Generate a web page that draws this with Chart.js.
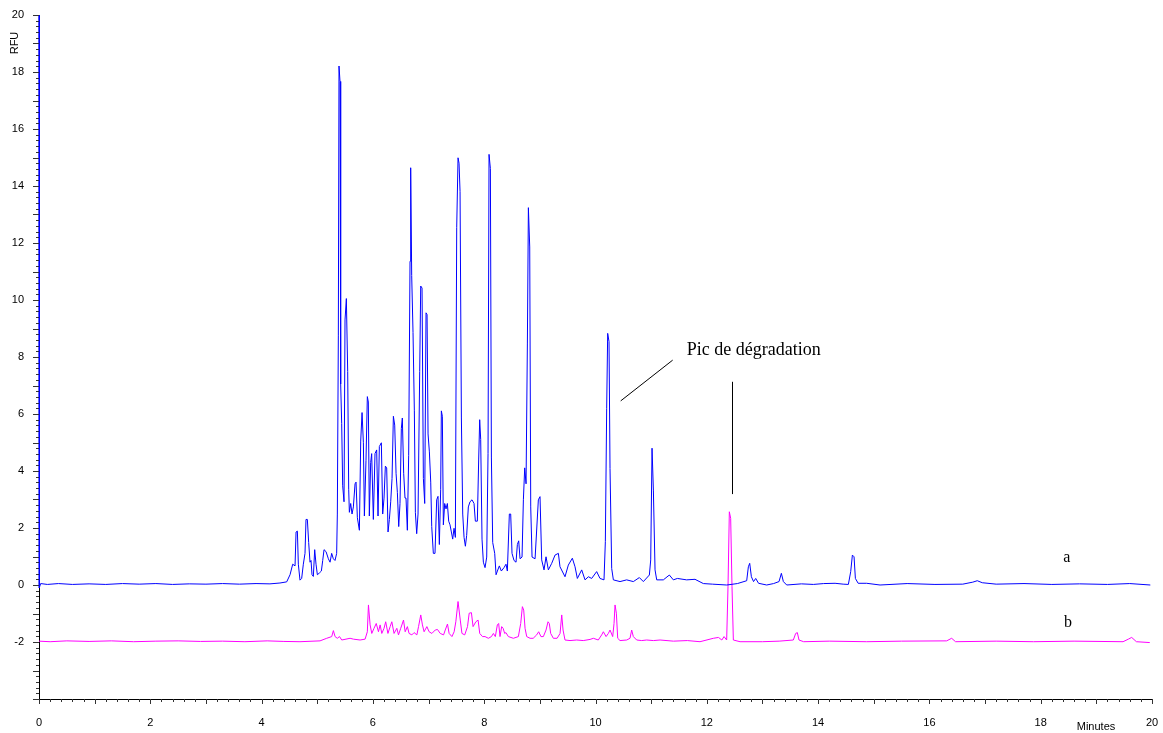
<!DOCTYPE html>
<html>
<head>
<meta charset="utf-8">
<script src="https://cdn.jsdelivr.net/npm/chart.js@4"></script>
<style>
  body { margin: 0; background: #fff; }
  #wrap { width: 1163px; height: 733px; }
</style>
</head>
<body>
<div id="wrap"><canvas id="chrom" width="1163" height="733"></canvas></div>
<script>
// trace a (blue) : temps (min) / RFU
const timeA = [0, 0.005, 0.03, 0.15, 0.35, 0.6, 0.9, 1.2, 1.5, 1.8, 2.1, 2.4, 2.7, 3.0, 3.3, 3.6, 3.9, 4.15, 4.33,
  4.451, 4.511, 4.559, 4.601, 4.619, 4.643, 4.660, 4.690, 4.720, 4.750, 4.780, 4.798, 4.822, 4.846, 4.870, 4.888, 4.906, 4.930,
  4.954, 4.978, 5.002, 5.038, 5.074, 5.098, 5.122, 5.158, 5.200, 5.230, 5.259, 5.289, 5.319, 5.349, 5.361, 5.379, 5.391, 5.409,
  5.421, 5.439, 5.457, 5.481, 5.499, 5.523, 5.547, 5.565, 5.577, 5.601, 5.625, 5.649, 5.679, 5.697, 5.721, 5.757, 5.781, 5.805,
  5.829, 5.847, 5.876, 5.900, 5.918, 5.936, 5.960, 5.978, 6.008, 6.038, 6.068, 6.092, 6.116, 6.152, 6.176, 6.200, 6.224, 6.248,
  6.272, 6.296, 6.320, 6.344, 6.368, 6.392, 6.416, 6.440, 6.464, 6.487, 6.511, 6.529, 6.553, 6.577, 6.595, 6.619, 6.643, 6.667,
  6.679, 6.697, 6.721, 6.745, 6.763, 6.787, 6.811, 6.841, 6.859, 6.883, 6.907, 6.931, 6.955, 6.973, 6.991, 7.015, 7.039, 7.057,
  7.086, 7.116, 7.146, 7.170, 7.194, 7.218, 7.230, 7.248, 7.266, 7.290, 7.314, 7.338, 7.362, 7.386, 7.410, 7.434, 7.458, 7.482,
  7.506, 7.530, 7.548, 7.566, 7.590, 7.614, 7.638, 7.662, 7.685, 7.715, 7.745, 7.781, 7.817, 7.841, 7.877, 7.901, 7.919, 7.937,
  7.961, 7.985, 8.015, 8.045, 8.069, 8.087, 8.111, 8.129, 8.153, 8.189, 8.213, 8.237, 8.272, 8.308, 8.356, 8.392, 8.416, 8.452,
  8.476, 8.500, 8.536, 8.572, 8.596, 8.620, 8.644, 8.680, 8.704, 8.728, 8.752, 8.776, 8.794, 8.818, 8.836, 8.860, 8.914, 8.973,
  9.003, 9.033, 9.075, 9.111, 9.153, 9.213, 9.273, 9.333, 9.362, 9.452, 9.512, 9.584, 9.632, 9.674, 9.752, 9.812, 9.872, 9.931,
  10.021, 10.081, 10.153, 10.177, 10.201, 10.219, 10.243, 10.261, 10.291, 10.321, 10.441, 10.560, 10.680, 10.788, 10.860, 10.968,
  10.992, 11.016, 11.040, 11.070, 11.100, 11.219, 11.327, 11.399, 11.471, 11.638, 11.788, 11.938, 12.1, 12.358, 12.55, 12.717,
  12.747, 12.771, 12.801, 12.84, 12.879, 12.93, 13.076, 13.2, 13.298, 13.340, 13.376, 13.436, 13.7, 13.915, 14.1, 14.305, 14.45,
  14.544, 14.586, 14.616, 14.646, 14.670, 14.72, 14.873, 15.113, 15.6, 16.1, 16.6, 16.78, 16.86, 16.95, 17.2, 17.7, 18.2, 18.7,
  19.2, 19.6, 19.97];
const rfuA = [20, -0.1, 0.05, 0.02, 0.05, 0.02, 0.04, 0.02, 0.05, 0.03, 0.05, 0.02, 0.04, 0.03, 0.05, 0.03, 0.05, 0.04, 0.07,
  0.11, 0.36, 0.73, 0.67, 1.86, 1.89, 0.73, 0.17, 0.23, 0.73, 1.11, 2.30, 2.30, 1.49, 0.80, 0.86, 0.36, 0.30,
  1.24, 0.73, 0.36, 0.42, 0.49, 0.86, 1.24, 1.17, 0.92, 0.80, 1.11, 0.92, 0.86, 1.11, 2.49, 8.74, 18.21, 17.67,
  7.05, 5.67, 3.48, 2.92, 9.30, 10.05, 7.49, 3.36, 2.55, 2.86, 2.49, 2.74, 3.55, 3.61, 2.36, 1.92, 5.05, 6.05,
  4.99, 2.42, 4.36, 6.61, 6.42, 2.42, 4.30, 4.61, 2.30, 4.61, 4.74, 2.42, 4.86, 4.99, 2.49, 3.05, 4.17, 4.11,
  1.86, 2.30, 2.92, 3.74, 5.92, 5.61, 3.92, 3.24, 2.05, 2.86, 5.49, 5.86, 3.92, 3.05, 3.05, 1.92, 4.55, 11.36,
  14.64, 10.86, 8.86, 6.11, 2.55, 1.80, 2.49, 7.49, 10.49, 10.42, 3.74, 2.86, 9.55, 9.49, 5.30, 4.67, 3.61, 2.05,
  1.11, 1.11, 2.99, 3.11, 1.42, 3.36, 6.11, 5.92, 2.11, 2.86, 2.67, 2.86, 2.24, 2.11, 1.86, 1.61, 1.99, 1.67,
  12.55, 14.99, 14.80, 13.80, 5.86, 2.49, 1.67, 1.36, 1.74, 2.74, 2.92, 2.99, 2.86, 2.24, 2.24, 4.42, 5.80, 5.11,
  1.61, 0.80, 0.61, 0.98, 4.61, 15.11, 14.61, 4.49, 1.49, 1.11, 0.36, 0.49, 0.67, 0.49, 0.61, 0.73, 0.49, 2.49,
  2.49, 1.11, 0.86, 0.80, 1.42, 1.55, 0.92, 0.98, 2.99, 4.11, 3.55, 8.49, 13.24, 11.86, 2.74, 0.98, 0.92, 2.99,
  3.10, 0.88, 0.53, 0.99, 0.53, 0.76, 1.05, 1.11, 0.64, 0.29, 0.70, 0.94, 0.64, 0.23, 0.53, 0.18, 0.29, 0.23,
  0.47, 0.23, 0.18, 1.52, 6.20, 8.83, 8.54, 4.09, 0.58, 0.18, 0.12, 0.18, 0.12, 0.26, 0.12, 0.35,
  0.88, 4.80, 3.33, 0.53, 0.18, 0.18, 0.35, 0.18, 0.23, 0.18, 0.20, 0.05, 0.03, 0.0, 0.05, 0.15,
  0.64, 0.76, 0.29, 0.12, 0.23, 0.06, 0.0, 0.05, 0.12, 0.41, 0.12, 0.0, 0.04, 0.02, 0.05, 0.06, 0.03,
  0.02, 0.47, 1.05, 0.99, 0.23, 0.06, 0.06, 0.0, 0.05, 0.02, 0.03, 0.10, 0.15, 0.08, 0.03, 0.05, 0.02, 0.04,
  0.02, 0.05, 0.0];

// trace b (magenta)
const timeB = [0, 0.2, 0.5, 0.9, 1.3, 1.7, 2.1, 2.5, 2.9, 3.3, 3.7, 4.1, 4.4,
  4.69, 5.05, 5.17, 5.26, 5.29, 5.32, 5.36, 5.40, 5.44, 5.59, 5.65, 5.77, 5.86, 5.90, 5.92, 5.95, 5.98, 6.02, 6.06, 6.10,
  6.13, 6.16, 6.20, 6.23, 6.27, 6.31, 6.34, 6.38, 6.43, 6.46, 6.50, 6.55, 6.58, 6.62, 6.65, 6.70, 6.74, 6.79, 6.82, 6.86,
  6.89, 6.92, 6.97, 7.01, 7.06, 7.12, 7.16, 7.21, 7.27, 7.30, 7.34, 7.37, 7.42, 7.46, 7.49, 7.53, 7.57, 7.60, 7.65, 7.70,
  7.73, 7.77, 7.80, 7.85, 7.89, 7.92, 7.97, 8.015, 8.075, 8.13, 8.165, 8.20, 8.236, 8.26, 8.284, 8.314, 8.34, 8.368, 8.39,
  8.434, 8.524, 8.614, 8.656, 8.686, 8.71, 8.734, 8.764, 8.824, 8.88, 8.943, 8.979, 9.02, 9.063, 9.111, 9.147, 9.17, 9.195,
  9.243, 9.31, 9.363, 9.393, 9.417, 9.452, 9.542, 9.662, 9.78, 9.902, 9.962, 10.05, 10.111, 10.141, 10.19, 10.231, 10.261,
  10.309, 10.333, 10.351, 10.375, 10.399, 10.441, 10.561, 10.62, 10.650, 10.68, 10.740, 10.83, 10.92, 11.04, 11.16, 11.4,
  11.65, 11.878, 12.118, 12.21, 12.27, 12.31, 12.357, 12.381, 12.405, 12.429, 12.453, 12.477, 12.597, 13.0, 13.3, 13.555,
  13.597, 13.627, 13.657, 13.74, 14.2, 14.873, 15.5, 16.31, 16.40, 16.47, 17.2, 17.87, 18.6, 19.48, 19.575, 19.635, 19.72, 19.96];
const rfuB = [-1.97, -1.99, -1.96, -1.98, -1.96, -1.99, -1.97, -1.96, -1.98, -1.97, -1.99, -1.96, -1.98,
  -1.99, -1.96, -1.87, -1.81, -1.60, -1.81, -1.87, -1.81, -1.93, -1.87, -1.90, -1.93, -1.90, -1.64, -0.70, -1.40, -1.70, -1.52, -1.35, -1.64,
  -1.40, -1.70, -1.52, -1.29, -1.70, -1.46, -1.29, -1.70, -1.52, -1.75, -1.52, -1.23, -1.64, -1.46, -1.70, -1.75, -1.67, -1.75, -1.46, -1.05,
  -1.40, -1.64, -1.46, -1.64, -1.70, -1.58, -1.56, -1.70, -1.75, -1.58, -1.37, -1.70, -1.81, -1.64, -1.29, -0.58, -1.23, -1.70, -1.75, -1.46,
  -0.99, -0.97, -1.46, -1.29, -1.23, -1.70, -1.81, -1.81, -1.87, -1.81, -1.70, -1.81, -1.40, -1.35, -1.81, -1.46, -1.52, -1.70, -1.67,
  -1.81, -1.87, -1.81, -1.35, -0.76, -0.88, -1.52, -1.81, -1.87, -1.87, -1.75, -1.64, -1.81, -1.81, -1.58, -1.29, -1.35, -1.70,
  -1.87, -1.87, -1.70, -1.05, -1.58, -1.93, -1.95, -1.93, -1.95, -1.91, -1.87, -1.93, -1.75, -1.64, -1.81, -1.70, -1.58,
  -1.81, -1.35, -0.70, -0.99, -1.87, -1.95, -1.93, -1.87, -1.58, -1.81, -1.93, -1.95, -1.93, -1.95, -1.93, -1.97,
  -1.95, -1.99, -1.87, -1.84, -1.93, -1.81, -1.93, -0.06, 2.57, 2.34, -0.06, -1.93, -1.99, -1.99, -1.97, -1.93,
  -1.70, -1.67, -1.93, -1.99, -1.97, -1.99, -1.97, -1.96, -1.87, -1.99, -1.97, -1.99, -1.97, -1.99, -1.90, -1.84, -1.99, -2.02];

const xTicks = [0, 2, 4, 6, 8, 10, 12, 14, 16, 18, 20];
const yTicks = [-2, 0, 2, 4, 6, 8, 10, 12, 14, 16, 18, 20];
const traceNames = ['a', 'b'];

const sans = '"Liberation Sans", Arial, sans-serif';
const serif = '"Liberation Serif", "Times New Roman", serif';

function pts(ts, vs) {
  return ts.map((t, i) => ({ x: t, y: vs[i] }));
}

// petits traits d'axe + textes libres
const decor = {
  id: 'decor',
  afterDraw(chart) {
    const { ctx, chartArea: ca, scales: { x, y } } = chart;
    ctx.save();
    ctx.strokeStyle = '#333';
    ctx.lineWidth = 1;
    ctx.beginPath();
    for (let i = 0; i <= 120; i++) {
      const py = Math.round(y.getPixelForValue(-4 + i * 0.2)) + 0.5;
      const len = i % 5 === 0 ? 6 : 3;
      ctx.moveTo(ca.left - len, py);
      ctx.lineTo(ca.left, py);
    }
    for (let i = 0; i <= 100; i++) {
      const px = Math.round(x.getPixelForValue(i * 0.2)) + 0.5;
      const len = i % 5 === 0 ? 5 : 3;
      ctx.moveTo(px, ca.bottom);
      ctx.lineTo(px, ca.bottom + len);
    }
    ctx.stroke();

    ctx.fillStyle = '#000';
    ctx.font = '11px ' + sans;
    ctx.textAlign = 'center';
    ctx.textBaseline = 'middle';
    ctx.save();
    ctx.translate(15, 43);
    ctx.rotate(-Math.PI / 2);
    ctx.fillText('RFU', 0, 0);
    ctx.restore();
    ctx.fillText('Minutes', 1096, 727);

    // annotation
    ctx.strokeStyle = '#000';
    ctx.beginPath();
    ctx.moveTo(x.getPixelForValue(10.453), y.getPixelForValue(6.46));
    ctx.lineTo(x.getPixelForValue(11.387), y.getPixelForValue(7.89));
    ctx.moveTo(Math.round(x.getPixelForValue(12.45)) + 0.5, y.getPixelForValue(7.13));
    ctx.lineTo(Math.round(x.getPixelForValue(12.45)) + 0.5, y.getPixelForValue(3.19));
    ctx.stroke();
    ctx.font = '18px ' + serif;
    ctx.textAlign = 'left';
    ctx.fillText('Pic de dégradation', x.getPixelForValue(11.64), y.getPixelForValue(8.25));
    ctx.textAlign = 'center';
    ctx.font = '16px ' + serif;
    ctx.fillText(traceNames[0], x.getPixelForValue(18.47), y.getPixelForValue(0.95));
    ctx.fillText(traceNames[1], x.getPixelForValue(18.49), y.getPixelForValue(-1.32));
    ctx.restore();
  }
};

new Chart(document.getElementById('chrom'), {
  type: 'line',
  data: {
    datasets: [{
      label: traceNames[0],
      data: pts(timeA, rfuA),
      borderColor: '#0000ff',
      borderWidth: 1,
      pointRadius: 0,
      tension: 0,
      clip: false
    }, {
      label: traceNames[1],
      data: pts(timeB, rfuB),
      borderColor: '#ff00ff',
      borderWidth: 1,
      pointRadius: 0,
      tension: 0
    }]
  },
  options: {
    responsive: false,
    animation: false,
    layout: { padding: { top: 15, right: 11, left: 0, bottom: 0 } },
    plugins: {
      legend: { display: false },
      tooltip: { enabled: false }
    },
    scales: {
      x: {
        type: 'linear',
        min: 0,
        max: 20,
        afterBuildTicks: s => { s.ticks = xTicks.map(v => ({ value: v })); },
        afterFit: s => { s.height = 34; s.paddingLeft = 0; s.paddingRight = 0; },
        grid: { display: false },
        border: { display: true, color: '#000', width: 1 },
        ticks: {
          padding: 9,
          maxRotation: 0,
          color: '#000',
          font: { family: sans, size: 11 }
        }
      },
      y: {
        min: -4,
        max: 20,
        afterBuildTicks: s => { s.ticks = yTicks.map(v => ({ value: v })); },
        afterFit: s => { s.width = 39; s.paddingTop = 0; s.paddingBottom = 0; },
        grid: { display: false },
        border: { display: true, color: '#000', width: 1 },
        ticks: {
          padding: 7,
          color: '#000',
          font: { family: sans, size: 11 }
        }
      }
    }
  },
  plugins: [decor]
});
</script>
</body>
</html>
